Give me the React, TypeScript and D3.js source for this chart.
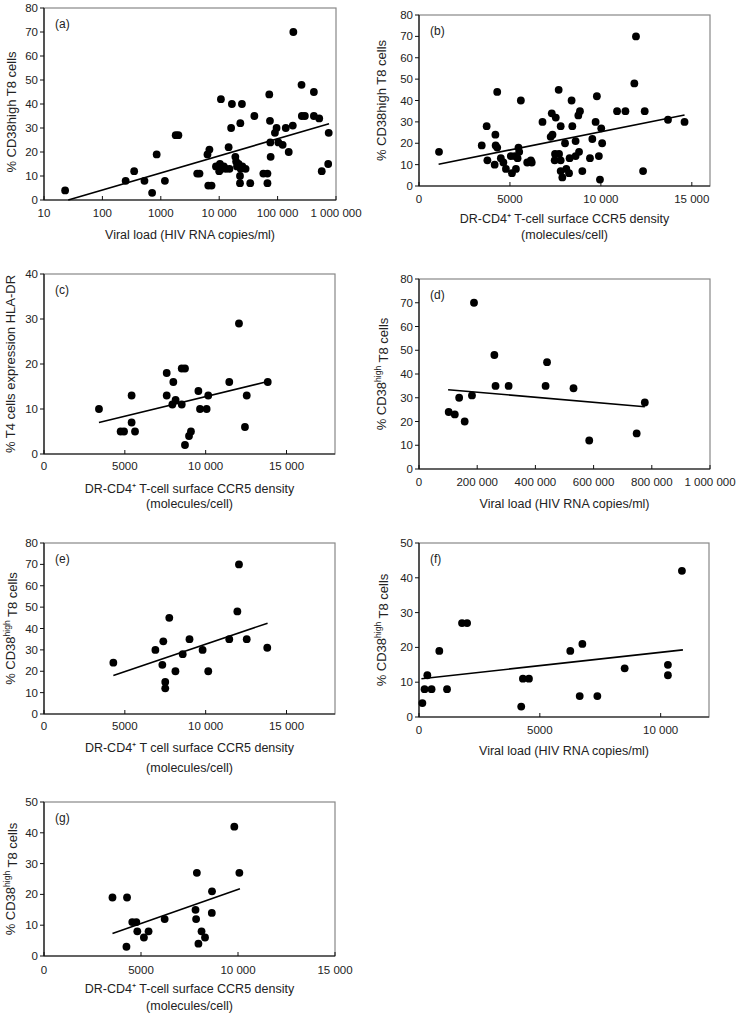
import React from 'react';
import * as d3 from 'd3';

// ---------- data ----------
const aX = [23, 250, 350, 525, 710, 850, 1175, 1800, 2000, 4200, 4600, 6300, 6800, 6500, 7400, 10700, 8800, 9500, 10000, 10300, 11000, 12000, 13000, 15000, 14500, 16000, 16500, 24500, 23000, 18900, 19500, 20200, 21500, 23300, 24900, 28300, 22700, 22700, 34000, 40000, 57000, 67000, 67000, 72000, 74000, 75000, 76000, 90000, 96000, 103000, 122000, 138000, 155000, 182000, 186000, 257000, 260000, 293000, 418000, 418000, 516000, 570000, 735000, 750000];
const aY = [4, 8, 12, 8, 3, 19, 8, 27, 27, 11, 11, 19, 21, 6, 6, 42, 14, 14, 12, 15, 13, 14, 13, 13, 22, 30, 40, 40, 32, 18, 16, 14, 15, 13, 14, 13, 10, 7, 7, 35, 11, 11, 7, 44, 33, 24, 18, 28, 30, 24, 23, 30, 20, 31, 70, 48, 35, 35, 45, 35, 34, 12, 15, 28];
const aFitX = [26, 760000];
const aFitY = [0, 31.8];

const bX = [1100, 3450, 3720, 3760, 4200, 4215, 4300, 4300, 4160, 4500, 4640, 4780, 5050, 5110, 5270, 5330, 5420, 5470, 5510, 5600, 5950, 6150, 6200, 6790, 7240, 7300, 7340, 7520, 7480, 7460, 7680, 7700, 7790, 7790, 7790, 7880, 8030, 8100, 8280, 8250, 8390, 8430, 8610, 8610, 8760, 8850, 8800, 8980, 9400, 9530, 9710, 9780, 9890, 9950, 10020, 10070, 10890, 11350, 11840, 11930, 12320, 12410, 13690, 14600];
const bY = [16, 19, 28, 12, 24, 19, 18, 44, 10, 13, 11, 8, 14, 6, 14, 8, 13, 18, 16, 40, 11, 12, 11, 30, 23, 34, 24, 32, 15, 12, 45, 15, 28, 12, 7, 4, 20, 8, 13, 6, 40, 28, 21, 14, 33, 35, 16, 7, 13, 22, 30, 42, 14, 3, 27, 20, 35, 35, 48, 70, 7, 35, 31, 30];
const bFitX = [1077, 14600];
const bFitY = [10.2, 33.2];

const cX = [3400, 4740, 4950, 5420, 5420, 5630, 7590, 7590, 7940, 8000, 8140, 8520, 8520, 8720, 8720, 8970, 9090, 9550, 9650, 10060, 10160, 11460, 12060, 12430, 12540, 13840];
const cY = [10, 5, 5, 13, 7, 5, 13, 18, 11, 16, 12, 11, 19, 19, 2, 4, 5, 14, 10, 10, 13, 16, 29, 6, 13, 16];
const cFitX = [3400, 13840];
const cFitY = [7.0, 16.1];

const dX = [102000, 123000, 138000, 157000, 182000, 189000, 259000, 263000, 308000, 435000, 440000, 531000, 585000, 748000, 776000];
const dY = [24, 23, 30, 20, 31, 70, 48, 35, 35, 35, 45, 34, 12, 15, 28];
const dFitX = [100000, 776000];
const dFitY = [33.4, 26.2];

const eX = [4290, 6890, 7380, 7320, 7750, 7500, 7500, 8130, 8580, 9000, 9810, 10160, 11460, 11960, 12060, 12540, 13810];
const eY = [24, 30, 34, 23, 45, 15, 12, 20, 28, 35, 30, 20, 35, 48, 70, 35, 31];
const eFitX = [4290, 13830];
const eFitY = [18, 42.5];

const fX = [140, 230, 345, 520, 840, 1160, 1780, 1990, 4230, 4300, 4550, 6260, 6650, 6760, 7380, 8510, 10300, 10300, 10880];
const fY = [4, 8, 12, 8, 19, 8, 27, 27, 3, 11, 11, 19, 6, 21, 6, 14, 12, 15, 42];
const fFitX = [100, 10920];
const fFitY = [11, 19.3];

const gX = [3530, 4280, 4250, 4550, 4760, 4810, 5150, 5390, 6220, 7810, 7880, 7840, 7960, 8120, 8300, 8660, 8650, 9810, 10070];
const gY = [19, 19, 3, 11, 11, 8, 6, 8, 12, 15, 27, 12, 4, 8, 6, 21, 14, 42, 27];
const gFitX = [3530, 10100];
const gFitY = [7.3, 21.8];

const logTicks = [10, 100, 1000, 10000, 100000, 1000000];
const logTickLabels = ['10', '100', '1000', '10 000', '100 000', '1 000 000'];
const ccr5Ticks = [0, 5000, 10000, 15000];
const ccr5TickLabels = ['0', '5000', '10 000', '15 000'];
const vlTicks = [0, 200000, 400000, 600000, 800000, 1000000];
const vlTickLabels = ['0', '200 000', '400 000', '600 000', '800 000', '1 000 000'];
const vlSmallTicks = [0, 5000, 10000];
const vlSmallTickLabels = ['0', '5000', '10 000'];
const y80Ticks = [0, 10, 20, 30, 40, 50, 60, 70, 80];
const y50Ticks = [0, 10, 20, 30, 40, 50];
const y40Ticks = [0, 10, 20, 30, 40];

const FONT = '"Liberation Sans", Arial, Helvetica, sans-serif';
const TXT = '#222';

type PanelProps = {
  left: number; right: number; top: number; bottom: number;
  log?: boolean; xDomain: [number, number]; yDomain: [number, number];
  xTicks: number[]; xTickLabels: string[]; yTicks: number[];
  xs: number[]; ys: number[]; fitX: number[]; fitY: number[];
  label: string; yTitle: React.ReactNode; yTitleX: number; yTitleY?: number;
  xTitle: string[]; xTickY: number; xTitleY: number[];
};

function Panel(p: PanelProps) {
  const x = p.log
    ? d3.scaleLog().domain(p.xDomain).range([p.left, p.right])
    : d3.scaleLinear().domain(p.xDomain).range([p.left, p.right]);
  const y = d3.scaleLinear().domain(p.yDomain).range([p.bottom, p.top]);
  const line = d3.line<number>().x((d, i) => x(p.fitX[i])).y((d, i) => y(p.fitY[i]));
  const cy = p.yTitleY ?? (p.top + p.bottom) / 2;
  const cx = (p.left + p.right) / 2;
  return (
    <g fontFamily={FONT} fill={TXT}>
      <rect x={p.left} y={p.top} width={p.right - p.left} height={p.bottom - p.top}
        fill="none" stroke="#888" strokeWidth={1.2} />
      <line x1={p.left} x2={p.left} y1={p.top} y2={p.bottom} stroke="#111" strokeWidth={1.2} />
      <line x1={p.left} x2={p.right} y1={p.bottom} y2={p.bottom} stroke="#111" strokeWidth={1.2} />
      {p.yTicks.map((t) => (
        <g key={'y' + t}>
          <line x1={p.left - 4} x2={p.left} y1={y(t)} y2={y(t)} stroke="#111" />
          <text x={p.left - 6} y={y(t)} dy="0.35em" textAnchor="end" fontSize={11.5}>{t}</text>
        </g>
      ))}
      {p.xTicks.map((t, i) => (
        <g key={'x' + t}>
          <line x1={x(t)} x2={x(t)} y1={p.bottom} y2={p.bottom - 4} stroke="#111" />
          <text x={x(t)} y={p.xTickY} dy="0.35em" textAnchor="middle" fontSize={11.5}>{p.xTickLabels[i]}</text>
        </g>
      ))}
      <path d={line(p.fitX) || ''} stroke="#000" strokeWidth={1.6} fill="none" />
      {p.xs.map((v, i) => (
        <circle key={i} cx={x(v)} cy={y(p.ys[i])} r={3.9} fill="#000" />
      ))}
      <text x={p.left + 11} y={p.top + 20} fontSize={12}>{p.label}</text>
      <text transform={`translate(${p.yTitleX},${cy}) rotate(-90)`} dy="0.35em" textAnchor="middle" fontSize={13}>{p.yTitle}</text>
      {p.xTitle.map((s, i) => (
        <text key={s} x={cx} y={p.xTitleY[i]} dy="0.35em" textAnchor="middle" fontSize={12.5}>{s}</text>
      ))}
    </g>
  );
}

const cdHigh = (
  <>
    % CD38<tspan fontSize={8.5} dy="-0.5em">high</tspan><tspan dy="0.5em"> T8 cells</tspan>
  </>
);

export default function App() {
  return (
    <svg width={739} height={1014} style={{ position: 'absolute', left: 0, top: 0, background: '#fff' }}>
      <rect width={739} height={1014} fill="#fff" />
      <Panel left={44} right={336} top={8} bottom={200} log xDomain={[10, 1000000]} yDomain={[0, 80]}
        xTicks={logTicks} xTickLabels={logTickLabels} yTicks={y80Ticks}
        xs={aX} ys={aY} fitX={aFitX} fitY={aFitY} label="(a)"
        yTitle="% CD38high T8 cells" yTitleX={11} yTitleY={112}
        xTitle={['Viral load (HIV RNA copies/ml)']} xTickY={213} xTitleY={[235]} />
      <Panel left={419} right={710} top={15} bottom={186} xDomain={[0, 16000]} yDomain={[0, 80]}
        xTicks={ccr5Ticks} xTickLabels={ccr5TickLabels} yTicks={y80Ticks}
        xs={bX} ys={bY} fitX={bFitX} fitY={bFitY} label="(b)"
        yTitle="% CD38high T8 cells" yTitleX={381}
        xTitle={['DR-CD4⁺ T-cell surface CCR5 density', '(molecules/cell)']} xTickY={199} xTitleY={[219, 235]} />
      <Panel left={44} right={335} top={274} bottom={454} xDomain={[0, 18000]} yDomain={[0, 40]}
        xTicks={ccr5Ticks} xTickLabels={ccr5TickLabels} yTicks={y40Ticks}
        xs={cX} ys={cY} fitX={cFitX} fitY={cFitY} label="(c)"
        yTitle="% T4 cells expression HLA-DR" yTitleX={10}
        xTitle={['DR-CD4⁺ T-cell surface CCR5 density', '(molecules/cell)']} xTickY={466} xTitleY={[489, 504]} />
      <Panel left={419} right={710} top={279} bottom={469} xDomain={[0, 1000000]} yDomain={[0, 80]}
        xTicks={vlTicks} xTickLabels={vlTickLabels} yTicks={y80Ticks}
        xs={dX} ys={dY} fitX={dFitX} fitY={dFitY} label="(d)"
        yTitle={cdHigh} yTitleX={381}
        xTitle={['Viral load (HIV RNA copies/ml)']} xTickY={482} xTitleY={[504]} />
      <Panel left={44} right={335} top={543} bottom={714} xDomain={[0, 18000]} yDomain={[0, 80]}
        xTicks={ccr5Ticks} xTickLabels={ccr5TickLabels} yTicks={y80Ticks}
        xs={eX} ys={eY} fitX={eFitX} fitY={eFitY} label="(e)"
        yTitle={cdHigh} yTitleX={10}
        xTitle={['DR-CD4⁺ T cell surface CCR5 density', '(molecules/cell)']} xTickY={726} xTitleY={[748, 768]} />
      <Panel left={419} right={709} top={543} bottom={717} xDomain={[0, 12000]} yDomain={[0, 50]}
        xTicks={vlSmallTicks} xTickLabels={vlSmallTickLabels} yTicks={y50Ticks}
        xs={fX} ys={fY} fitX={fFitX} fitY={fFitY} label="(f)"
        yTitle={cdHigh} yTitleX={381}
        xTitle={['Viral load (HIV RNA copies/ml)']} xTickY={730} xTitleY={[751]} />
      <Panel left={44} right={335} top={802} bottom={956} xDomain={[0, 15000]} yDomain={[0, 50]}
        xTicks={ccr5Ticks} xTickLabels={ccr5TickLabels} yTicks={y50Ticks}
        xs={gX} ys={gY} fitX={gFitX} fitY={gFitY} label="(g)"
        yTitle={cdHigh} yTitleX={10}
        xTitle={['DR-CD4⁺ T-cell surface CCR5 density', '(molecules/cell)']} xTickY={970} xTitleY={[989, 1006]} />
    </svg>
  );
}
